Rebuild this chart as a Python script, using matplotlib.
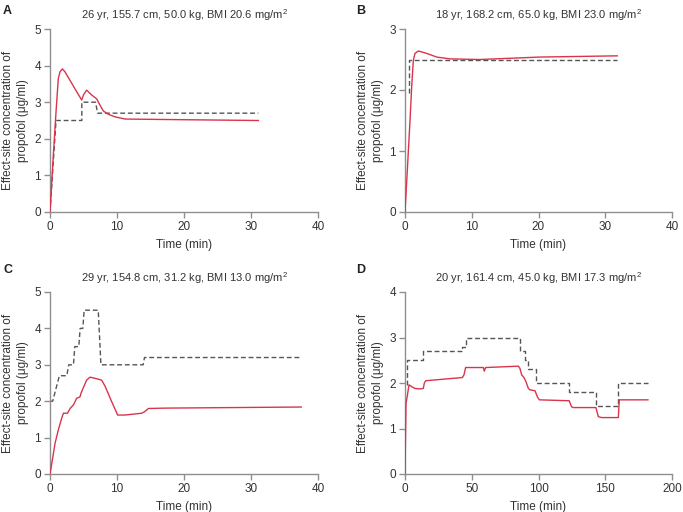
import matplotlib
matplotlib.use("Agg")
import matplotlib.pyplot as plt

plt.rcParams["font.family"] = ["Liberation Sans", "DejaVu Sans"]
plt.rcParams["mathtext.fontset"] = "custom"
plt.rcParams["mathtext.rm"] = "Liberation Sans"
plt.rcParams["mathtext.it"] = "Liberation Sans"

# ---- data (time in min, concentration in ug/ml) ----
a_time = [0, 0.5, 0.9, 1.24, 1.5, 1.84, 2.24, 3.23, 4.23, 4.73, 5.0, 5.47, 6.2, 6.97,
          7.46, 7.96, 8.7, 9.7, 11.2, 15.7, 31.1]
a_conc = [0, 1.56, 2.74, 3.65, 3.83, 3.91, 3.83, 3.52, 3.21, 3.06, 3.2, 3.33, 3.2, 3.09,
          2.92, 2.76, 2.67, 2.6, 2.54, 2.53, 2.5]
a_target_t = [0, 0.9, 4.75, 4.75, 6.8, 7.1, 31.1]
a_target_c = [0, 2.5, 2.5, 3.0, 3.0, 2.7, 2.7]

b_time = [0, 0.35, 0.75, 1.0, 1.25, 1.5, 2.0, 3.25, 4.75, 6.75, 11.25, 20.2, 31.8]
b_conc = [0, 0.69, 1.5, 2.05, 2.49, 2.6, 2.64, 2.6, 2.54, 2.51, 2.5, 2.54, 2.56]
b_target_t = [0.6, 0.6, 31.8]
b_target_c = [1.95, 2.5, 2.5]

c_time = [0, 0.35, 0.75, 1.24, 1.74, 2.0, 2.6, 3.0, 3.5, 3.98, 4.48, 4.63, 4.97, 5.47,
          5.97, 6.7, 7.7, 8.2, 9.2, 10.1, 11.2, 13.7, 14.1, 14.7, 17.2, 37.5]
c_conc = [0, 0.38, 0.84, 1.21, 1.53, 1.67, 1.67, 1.8, 1.9, 2.08, 2.12, 2.22, 2.37, 2.58,
          2.66, 2.63, 2.58, 2.42, 1.99, 1.62, 1.62, 1.67, 1.71, 1.8, 1.81, 1.84]
c_target_t = [0, 0.4, 1.4, 2.5, 2.8, 3.5, 3.7, 4.3, 4.5, 4.9, 5.1, 7.2, 7.6, 13.9, 14.1, 37.5]
c_target_c = [2.0, 2.0, 2.7, 2.7, 3.0, 3.0, 3.5, 3.5, 4.0, 4.0, 4.5, 4.5, 3.0, 3.0, 3.2, 3.2]

d_time = [0, 0.75, 1.25, 3, 5, 7.5, 11.2, 13.7, 14.5, 15.5, 43, 44.2, 45.4, 58.7, 59.4,
          60.4, 84.9, 86.1, 87.4, 89.1, 90.6, 92.4, 93.6, 97.4, 99.1, 100.6, 123, 124.7,
          126, 143, 144.8, 147.3, 159.8, 160.5, 163.5, 182]
d_conc = [0, 1.55, 1.63, 1.96, 1.92, 1.88, 1.87, 1.88, 2.0, 2.05, 2.12, 2.18, 2.34, 2.34,
          2.26, 2.34, 2.37, 2.32, 2.18, 2.12, 2.03, 1.88, 1.85, 1.83, 1.7, 1.63, 1.61, 1.48,
          1.46, 1.46, 1.26, 1.24, 1.24, 1.63, 1.63, 1.63]
d_target_t = [1.7, 1.7, 13.7, 13.7, 42.9, 42.9, 45.4, 45.4, 85.8, 85.8, 89.6, 89.6, 92.4,
              92.4, 98.3, 98.3, 123, 123, 143.4, 143.4, 159.8, 159.8, 182]
d_target_c = [1.95, 2.5, 2.5, 2.7, 2.7, 2.8, 2.8, 3.0, 3.0, 2.7, 2.7, 2.5, 2.5,
              2.3, 2.3, 2.0, 2.0, 1.8, 1.8, 1.5, 1.5, 2.0, 2.0]

panels = [
    ("A", "26 yr, 155.7 cm, 50.0 kg, BMI 20.6 mg/m$^2$", a_time, a_conc, a_target_t, a_target_c, 40, 5),
    ("B", "18 yr, 168.2 cm, 65.0 kg, BMI 23.0 mg/m$^2$", b_time, b_conc, b_target_t, b_target_c, 40, 3),
    ("C", "29 yr, 154.8 cm, 31.2 kg, BMI 13.0 mg/m$^2$", c_time, c_conc, c_target_t, c_target_c, 40, 5),
    ("D", "20 yr, 161.4 cm, 45.0 kg, BMI 17.3 mg/m$^2$", d_time, d_conc, d_target_t, d_target_c, 200, 4),
]

RED = "#d9344c"
GREY = "#555555"
TXT = "#333333"
SPINE = "#8f8f8f"

fig = plt.figure(figsize=(6.83, 5.12), dpi=100)
fig.patch.set_facecolor("white")

boxes = [
    (50 / 683, (512 - 212) / 512, 268 / 683, 183 / 512),
    (405 / 683, (512 - 212) / 512, 267 / 683, 183 / 512),
    (50 / 683, (512 - 474) / 512, 268 / 683, 182 / 512),
    (405 / 683, (512 - 474) / 512, 267 / 683, 182 / 512),
]
letter_pos = [(3 / 683, 1 - 14 / 512), (356 / 683, 1 - 14 / 512),
              (3 / 683, 1 - 273 / 512), (356 / 683, 1 - 273 / 512)]

for (letter, title, t, c, tt, tc, xmax, ymax), box, lp in zip(panels, boxes, letter_pos):
    ax = fig.add_axes(box)
    ax.plot(tt, tc, color=GREY, lw=1.0, ls=(0, (3.5, 2)), zorder=2)
    ax.plot(t, c, color=RED, lw=1.0, zorder=3)
    ax.set_xlim(0, xmax)
    ax.set_ylim(0, ymax)
    ax.set_xticks(range(0, xmax + 1, xmax // 4))
    ax.set_yticks(range(0, ymax + 1))
    for s in ["top", "right"]:
        ax.spines[s].set_visible(False)
    for s in ["left", "bottom"]:
        ax.spines[s].set_color(SPINE)
        ax.spines[s].set_linewidth(1.0)
    ax.tick_params(colors=SPINE, labelcolor=TXT, labelsize=8.5, length=4, width=1.0, pad=2.5)
    ax.set_title(title, fontsize=8, color=TXT, pad=7)
    ax.set_xlabel("Time (min)", fontsize=8.5, color=TXT, labelpad=4)
    ax.set_ylabel("Effect-site concentration of\npropofol (\u03bcg/ml)", fontsize=8.5,
                  color=TXT, labelpad=4, linespacing=1.3)
    fig.text(lp[0], lp[1], letter, fontsize=9, fontweight="bold", color="#222222")

fig.savefig("out.png", dpi=100)
